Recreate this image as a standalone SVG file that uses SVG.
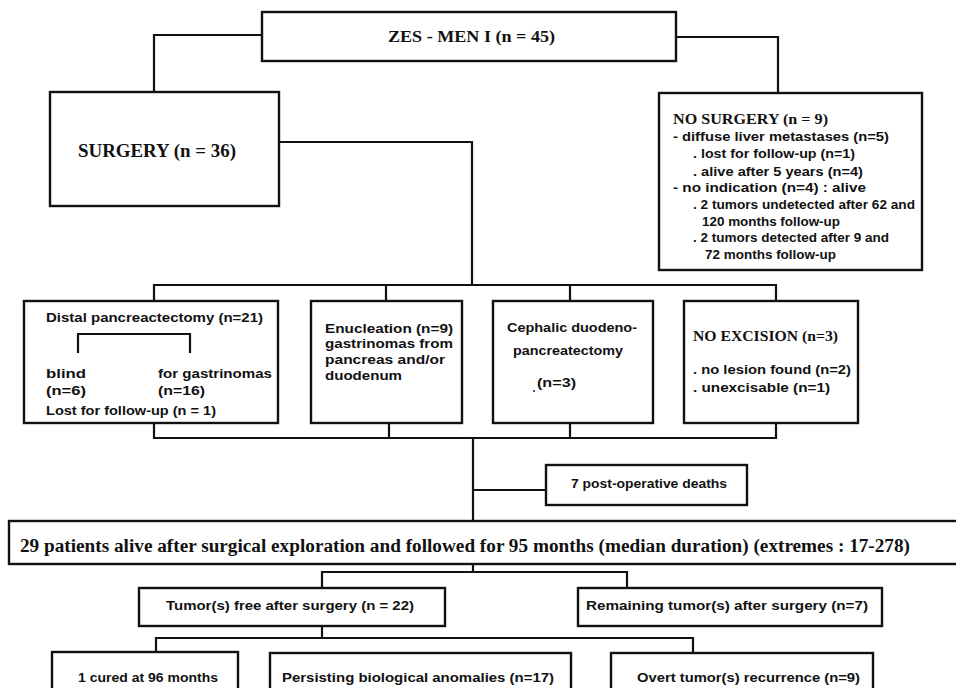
<svg xmlns="http://www.w3.org/2000/svg" width="956" height="688" viewBox="0 0 956 688">
<style>
.box{fill:#fff;stroke:#111;stroke-width:2.4}
.ln{fill:none;stroke:#111;stroke-width:2.2}
.h{font-family:"Liberation Serif",serif;font-weight:bold;fill:#111}
.s{font-family:"Liberation Sans",sans-serif;font-weight:bold;fill:#111;font-size:13px}
</style>
<rect width="956" height="688" fill="#fff"/>
<g id="connectors">
<path class="ln" d="M262,35 H154 V92"/>
<path class="ln" d="M676,37 H778 V93"/>
<path class="ln" d="M279,142 H472 V285"/>
<path class="ln" d="M154,301 V285 H776 V301"/>
<path class="ln" d="M386,285 V301"/>
<path class="ln" d="M570,285 V301"/>
<path class="ln" d="M154,423 V438 H776 V423"/>
<path class="ln" d="M389,423 V438"/>
<path class="ln" d="M570,423 V438"/>
<path class="ln" d="M473,438 V521"/>
<path class="ln" d="M473,490 H546"/>
<path class="ln" d="M473,564 V572"/>
<path class="ln" d="M322,588 V572 H627 V588"/>
<path class="ln" d="M322,626 V638"/>
<path class="ln" d="M156,652 V638 H693 V653"/>
</g>
<g id="zes">
<rect class="box" x="262" y="12" width="414" height="49"/>
<text class="h" x="388" y="42" font-size="17" textLength="167" lengthAdjust="spacingAndGlyphs">ZES - MEN I (n = 45)</text>
</g>
<g id="surgery">
<rect class="box" x="50" y="92" width="229" height="114"/>
<text class="h" x="78" y="157" font-size="19" textLength="158" lengthAdjust="spacingAndGlyphs">SURGERY (n = 36)</text>
</g>
<g id="nosurgery">
<rect class="box" x="659" y="93" width="263" height="177"/>
<text class="h" x="673" y="124" font-size="15" textLength="155" lengthAdjust="spacingAndGlyphs">NO SURGERY (n = 9)</text>
<text class="s" x="673" y="141" textLength="216" lengthAdjust="spacingAndGlyphs">- diffuse liver metastases (n=5)</text>
<text class="s" x="693" y="158" textLength="162" lengthAdjust="spacingAndGlyphs">. lost for follow-up (n=1)</text>
<text class="s" x="693" y="176" textLength="170" lengthAdjust="spacingAndGlyphs">. alive after 5 years (n=4)</text>
<text class="s" x="673" y="192" textLength="193" lengthAdjust="spacingAndGlyphs">- no indication (n=4) : alive</text>
<text class="s" x="693" y="209" textLength="222" lengthAdjust="spacingAndGlyphs">. 2 tumors undetected after 62 and</text>
<text class="s" x="702" y="226" textLength="138" lengthAdjust="spacingAndGlyphs">120 months follow-up</text>
<text class="s" x="693" y="242" textLength="196" lengthAdjust="spacingAndGlyphs">. 2 tumors detected after 9 and</text>
<text class="s" x="705" y="259" textLength="131" lengthAdjust="spacingAndGlyphs">72 months follow-up</text>
</g>
<g id="distal">
<rect class="box" x="24" y="301" width="254" height="122"/>
<text class="s" x="46" y="322" textLength="217" lengthAdjust="spacingAndGlyphs">Distal pancreactectomy (n=21)</text>
<path class="ln" d="M78,353 V334 H190 V353"/>
<text class="s" x="46" y="378" textLength="40" lengthAdjust="spacingAndGlyphs">blind</text>
<text class="s" x="46" y="395" textLength="40" lengthAdjust="spacingAndGlyphs">(n=6)</text>
<text class="s" x="158" y="378" textLength="114" lengthAdjust="spacingAndGlyphs">for gastrinomas</text>
<text class="s" x="158" y="395" textLength="47" lengthAdjust="spacingAndGlyphs">(n=16)</text>
<text class="s" x="46" y="415" textLength="170" lengthAdjust="spacingAndGlyphs">Lost for follow-up (n = 1)</text>
</g>
<g id="enucleation">
<rect class="box" x="311" y="301" width="151" height="122"/>
<text class="s" x="325" y="333" textLength="128" lengthAdjust="spacingAndGlyphs">Enucleation (n=9)</text>
<text class="s" x="325" y="348" textLength="128" lengthAdjust="spacingAndGlyphs">gastrinomas from</text>
<text class="s" x="325" y="364" textLength="120" lengthAdjust="spacingAndGlyphs">pancreas and/or</text>
<text class="s" x="325" y="380" textLength="77" lengthAdjust="spacingAndGlyphs">duodenum</text>
</g>
<g id="cephalic">
<rect class="box" x="493" y="301" width="160" height="122"/>
<text class="s" x="507" y="332" textLength="130" lengthAdjust="spacingAndGlyphs">Cephalic duodeno-</text>
<text class="s" x="513" y="355" textLength="110" lengthAdjust="spacingAndGlyphs">pancreatectomy</text>
<text class="s" x="537" y="387" textLength="39" lengthAdjust="spacingAndGlyphs">(n=3)</text>
<circle cx="534" cy="391" r="0.9" fill="#111"/>
</g>
<g id="noexcision">
<rect class="box" x="684" y="301" width="174" height="122"/>
<text class="h" x="693" y="341" font-size="15" textLength="145" lengthAdjust="spacingAndGlyphs">NO EXCISION (n=3)</text>
<text class="s" x="693" y="374" textLength="158" lengthAdjust="spacingAndGlyphs">. no lesion found (n=2)</text>
<text class="s" x="693" y="392" textLength="137" lengthAdjust="spacingAndGlyphs">. unexcisable (n=1)</text>
</g>
<g id="deaths">
<rect class="box" x="546" y="465" width="201" height="40"/>
<text class="s" x="571" y="488" font-size="11.5" textLength="156" lengthAdjust="spacingAndGlyphs">7 post-operative deaths</text>
</g>
<g id="alive">
<rect class="box" x="9" y="521" width="960" height="43"/>
<text class="h" x="20" y="552" font-size="18" textLength="890" lengthAdjust="spacingAndGlyphs">29 patients alive after surgical exploration and followed for 95 months (median duration) (extremes : 17-278)</text>
</g>
<g id="tumorfree">
<rect class="box" x="139" y="588" width="306" height="38"/>
<text class="s" x="166" y="610" textLength="248" lengthAdjust="spacingAndGlyphs">Tumor(s) free after surgery (n = 22)</text>
</g>
<g id="remaining">
<rect class="box" x="578" y="588" width="304" height="38"/>
<text class="s" x="586" y="610" textLength="282" lengthAdjust="spacingAndGlyphs">Remaining tumor(s) after surgery (n=7)</text>
</g>
<g id="cured">
<rect class="box" x="52" y="652" width="186" height="60"/>
<text class="s" x="78" y="682" textLength="140" lengthAdjust="spacingAndGlyphs">1 cured at 96 months</text>
</g>
<g id="persisting">
<rect class="box" x="270" y="653" width="301" height="60"/>
<text class="s" x="282" y="682" textLength="272" lengthAdjust="spacingAndGlyphs">Persisting biological anomalies (n=17)</text>
</g>
<g id="overt">
<rect class="box" x="611" y="653" width="262" height="60"/>
<text class="s" x="637" y="682" textLength="223" lengthAdjust="spacingAndGlyphs">Overt tumor(s) recurrence (n=9)</text>
</g>
</svg>
